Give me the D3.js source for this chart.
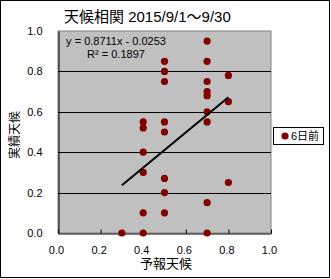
<!DOCTYPE html>
<html>
<head>
<meta charset="utf-8">
<script src="https://cdn.jsdelivr.net/npm/d3@7"></script>
<style>
  body { margin: 0; background: #fff; }
  text { font-family: "Liberation Sans", Arial, "Noto Sans CJK JP", sans-serif; }
</style>
</head>
<body>
<svg id="chart" width="331" height="279"></svg>
<script>
// forecast (x) vs actual (y), one point per day
var forecast = [0.3,
  0.4, 0.4, 0.4, 0.4, 0.4, 0.4,
  0.5, 0.5, 0.5, 0.5, 0.5, 0.5, 0.5, 0.5,
  0.7, 0.7, 0.7, 0.7, 0.7, 0.7, 0.7, 0.7, 0.7,
  0.8, 0.8, 0.8];
var actual = [0.0,
  0.55, 0.52, 0.40, 0.30, 0.10, 0.0,
  0.85, 0.80, 0.75, 0.55, 0.50, 0.27, 0.20, 0.10,
  0.95, 0.85, 0.75, 0.70, 0.68, 0.60, 0.55, 0.15, 0.0,
  0.78, 0.65, 0.25];
var ticks = [0, 0.2, 0.4, 0.6, 0.8, 1.0];
var slope = 0.8711, intercept = -0.0253, r2 = 0.1897;
var seriesName = "6日前";

var svg = d3.select("#chart");

// outer frame
svg.append("rect")
  .attr("x", 0.5).attr("y", 0.5)
  .attr("width", 329).attr("height", 277)
  .attr("fill", "#fff").attr("stroke", "#000");

var x = d3.scaleLinear().domain([0, 1]).range([58, 271]);
var y = d3.scaleLinear().domain([0, 1]).range([233, 31]);

// plot area
svg.append("rect")
  .attr("x", x(0)).attr("y", y(1))
  .attr("width", x(1) - x(0)).attr("height", y(0) - y(1))
  .attr("fill", "#c0c0c0").attr("stroke", "#808080");

// gridlines
svg.append("g")
  .selectAll("line")
  .data(ticks.filter(function(d) { return d > 0 && d < 1; }))
  .enter().append("line")
    .attr("x1", x(0)).attr("x2", x(1))
    .attr("y1", function(d) { return Math.round(y(d)) + 0.5; })
    .attr("y2", function(d) { return Math.round(y(d)) + 0.5; })
    .attr("stroke", "#000");

// axes
var xAxis = svg.append("g")
  .attr("transform", "translate(0," + (y(0) + 0.5) + ")")
  .call(d3.axisBottom(x).tickValues(ticks).tickSizeInner(-4).tickSizeOuter(0)
    .tickFormat(d3.format(".1f")));
xAxis.select(".domain").attr("stroke", "#000");
xAxis.selectAll("text")
  .attr("y", 13).attr("dx", -2)
  .style("font-size", "11px").attr("fill", "#000");

var yAxis = svg.append("g")
  .attr("transform", "translate(" + (x(0) + 0.5) + ",0)")
  .call(d3.axisLeft(y).tickValues(ticks).tickSize(0)
    .tickFormat(d3.format(".1f")));
yAxis.select(".domain").attr("stroke", "#000");
yAxis.selectAll("text")
  .attr("x", -16)
  .style("font-size", "11px").attr("fill", "#000");

// points
svg.append("g")
  .selectAll("circle")
  .data(forecast.map(function(d, i) { return {f: d, a: actual[i]}; }))
  .enter().append("circle")
    .attr("cx", function(d) { return x(d.f); })
    .attr("cy", function(d) { return y(d.a); })
    .attr("r", 3.6)
    .attr("fill", "#800000");

// trend line
var x0 = d3.min(forecast), x1 = d3.max(forecast);
svg.append("line")
  .attr("x1", x(x0)).attr("y1", y(slope * x0 + intercept))
  .attr("x2", x(x1)).attr("y2", y(slope * x1 + intercept))
  .attr("stroke", "#000").attr("stroke-width", 2);

// equation
svg.append("text")
  .attr("x", 116).attr("y", 45)
  .attr("text-anchor", "middle")
  .style("font-size", "11px")
  .text("y = " + slope + "x - " + Math.abs(intercept));
svg.append("text")
  .attr("x", 116).attr("y", 58)
  .attr("text-anchor", "middle")
  .style("font-size", "11px")
  .text("R² = " + r2);

// titles
svg.append("text")
  .attr("x", 64).attr("y", 22)
  .style("font-size", "15px")
  .text("天候相関 2015/9/1～9/30");

svg.append("text")
  .attr("x", 166).attr("y", 268)
  .attr("text-anchor", "middle")
  .style("font-size", "13px")
  .text("予報天候");

svg.append("text")
  .attr("transform", "translate(19,135) rotate(-90)")
  .attr("text-anchor", "middle")
  .style("font-size", "12px")
  .text("実績天候");

// legend
var legend = svg.append("g");
legend.append("rect")
  .attr("x", 273.5).attr("y", 127.5)
  .attr("width", 50).attr("height", 17)
  .attr("fill", "#fff").attr("stroke", "#000");
legend.append("circle")
  .attr("cx", 285).attr("cy", 136)
  .attr("r", 3.6).attr("fill", "#800000");
legend.append("text")
  .attr("x", 291).attr("y", 140)
  .style("font-size", "11px")
  .text(seriesName);
</script>
</body>
</html>
